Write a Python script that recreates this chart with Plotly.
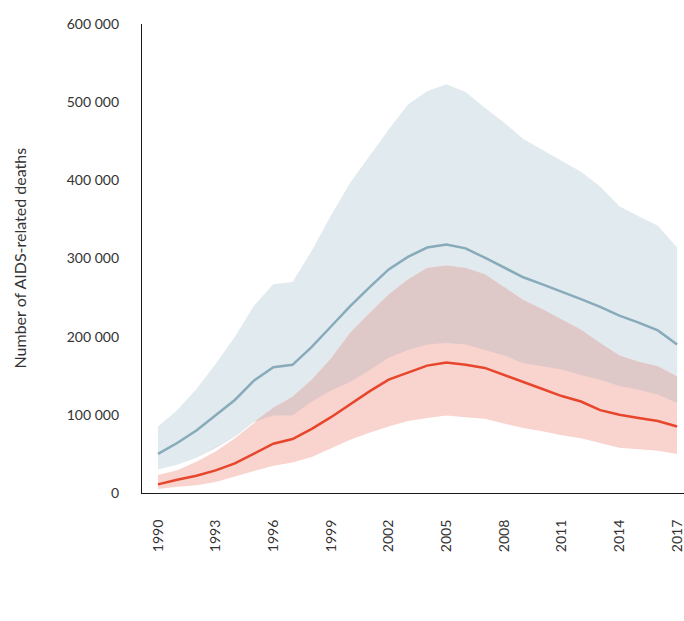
import numpy as np
import plotly.graph_objects as go

years = list(range(1990, 2018))
# values in thousands
blue_mid = [50, 64, 80, 100, 119, 144, 161, 164, 187, 213, 239, 263, 286, 302, 314, 318, 313, 301, 289, 276, 267, 258, 248, 238, 227, 218, 208, 190]
blue_up = [85, 106, 133, 165, 200, 240, 267, 270, 310, 355, 397, 431, 465, 497, 514, 523, 513, 493, 474, 453, 439, 425, 411, 392, 367, 354, 342, 314]
blue_lo = [30, 36, 45, 58, 72, 91, 99, 99, 117, 131, 142, 157, 173, 183, 190, 192, 190, 183, 176, 166, 162, 158, 151, 145, 137, 132, 126, 115]
red_mid = [11, 17, 22, 29, 38, 50, 63, 69, 82, 97, 114, 130, 145, 154, 163, 167, 164, 160, 151, 141, 133, 124, 117, 106, 100, 96, 92, 85]
red_up = [23, 29, 40, 53, 70, 90, 109, 123, 145, 172, 205, 230, 254, 273, 288, 291, 288, 280, 263, 247, 235, 222, 209, 192, 176, 168, 162, 149]
red_lo = [5, 8, 10, 14, 21, 28, 35, 39, 46, 57, 68, 77, 85, 92, 96, 99, 97, 95, 89, 83, 79, 74, 70, 64, 58, 56, 54, 50]
y_ticks = [0, 100000, 200000, 300000, 400000, 500000, 600000]
x_ticks = list(range(1990, 2018, 3))

K = 1000
bm, bu, bl = (np.array(v) * K for v in (blue_mid, blue_up, blue_lo))
rm, ru, rl = (np.array(v) * K for v in (red_mid, red_up, red_lo))
ov_lo = np.maximum(bl, rl)
ov_up = np.maximum(np.minimum(bu, ru), ov_lo)

BLUE_BAND = "#e1eaee"
PINK_BAND = "#f9d3ce"
OVERLAP = "#dfc9c8"
BLUE_LINE = "#87abba"
RED_LINE = "#e8462c"

fig = go.Figure()

def band(up, lo, color):
    fig.add_trace(go.Scatter(
        x=years + years[::-1], y=list(up) + list(lo[::-1]),
        fill="toself", fillcolor=color, line=dict(width=0),
        mode="lines", hoverinfo="skip", showlegend=False))

band(bu, bl, BLUE_BAND)
band(ru, rl, PINK_BAND)
band(ov_up, ov_lo, OVERLAP)

fig.add_trace(go.Scatter(x=years, y=bm, mode="lines",
                         line=dict(color=BLUE_LINE, width=2.5), showlegend=False))
fig.add_trace(go.Scatter(x=years, y=rm, mode="lines",
                         line=dict(color=RED_LINE, width=2.5), showlegend=False))

font = dict(family="Lato, 'Open Sans', sans-serif", size=14, color="#333333")
title_font = dict(family="Lato, 'Open Sans', sans-serif", size=16, color="#333333")

fig.update_layout(
    width=684, height=621,
    margin=dict(l=142, r=0, t=24, b=128),
    paper_bgcolor="white", plot_bgcolor="white",
    separators=". ",
    font=font,
    showlegend=False,
    xaxis=dict(
        range=[1989.17, 2017.36],
        tickmode="array", tickvals=x_ticks, ticktext=[str(t) for t in x_ticks],
        tickangle=-90, showgrid=False, zeroline=False,
        showline=True, linecolor="#1a1a1a", linewidth=1.3,
        ticks="", ticklabelstandoff=20, tickfont=font,
        ticklabeloverflow="allow",
    ),
    yaxis=dict(
        range=[0, 600000],
        tickmode="array", tickvals=y_ticks,
        ticktext=[f"{v:,}".replace(",", " ") for v in y_ticks],
        showgrid=False, zeroline=False,
        showline=True, linecolor="#1a1a1a", linewidth=1.3,
        ticks="", ticklabelstandoff=19, tickfont=font,
    ),
    annotations=[dict(
        text="Number of AIDS-related deaths", textangle=-90,
        xref="paper", yref="paper", x=(19 - 142) / 542, y=0.5,
        xanchor="center", yanchor="middle", showarrow=False, font=title_font,
    )],
)

fig.write_html(
    "out.html",
    config={"displayModeBar": False},
    post_script="document.body.style.margin='0px';document.body.style.overflow='hidden';",
)
